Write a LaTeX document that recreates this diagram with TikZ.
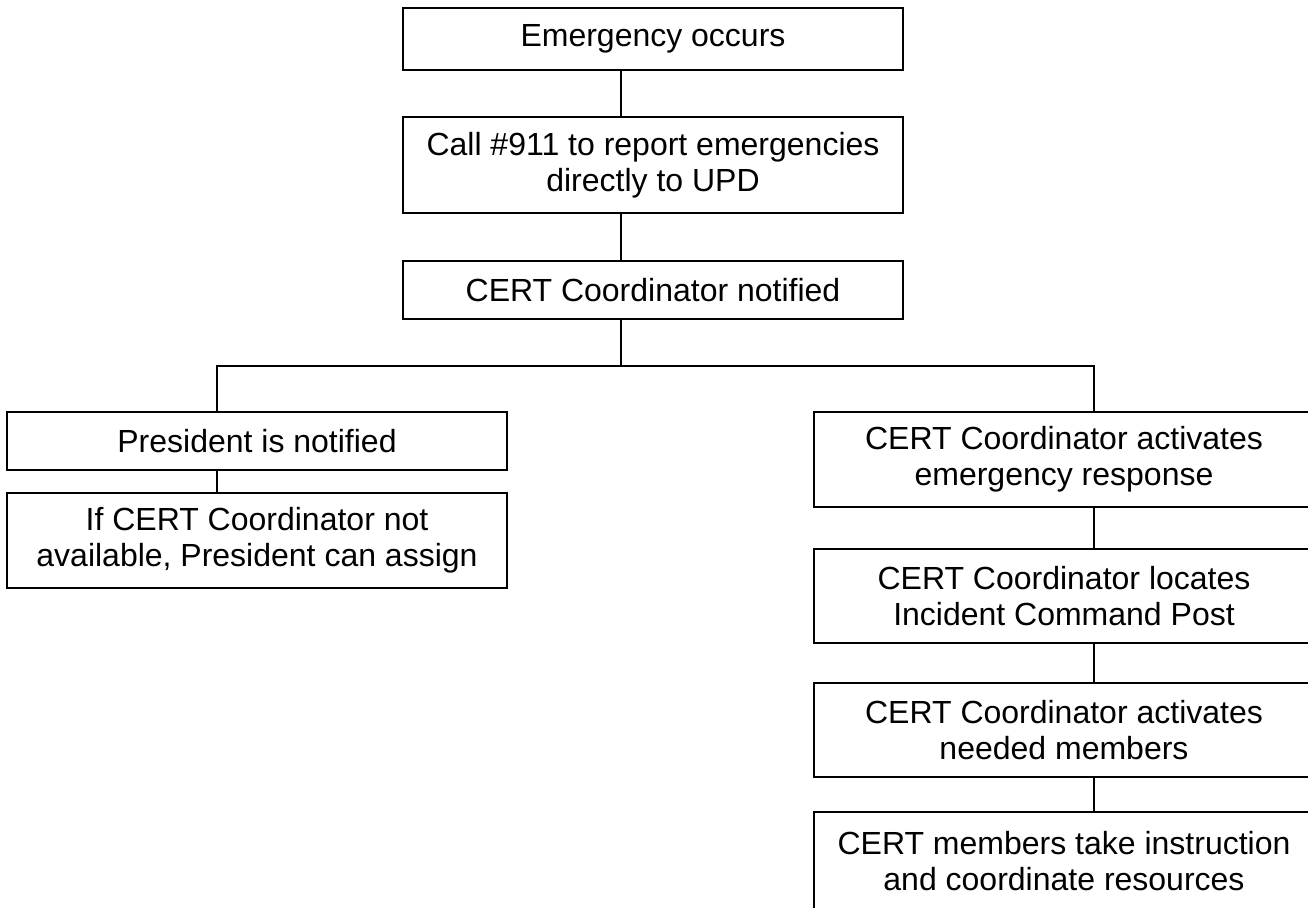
\documentclass[tikz,border=0pt]{standalone}
\usepackage{fontspec}
\setmainfont{Liberation Sans}
\usetikzlibrary{calc}

\tikzset{
  flowbox/.style={draw, line width=1.8pt, minimum width=500pt, align=center,
    inner sep=0pt, font=\fontsize{32}{36}\selectfont},
  link/.style={line width=1.8pt}
}

\begin{document}
\begin{tikzpicture}[x=1pt, y=-1pt]
		%%%%% START %%%%%
		\useasboundingbox (0, 0) rectangle (1308, 907);
		\clip (0, 0) rectangle (1308, 907);
		\fill[white] (0, 0) rectangle (1308, 907);
		
		\node[flowbox, minimum height=62pt] (emerg) at (653, 39) {Emergency occurs};
		\node[flowbox, minimum height=96pt] (call) at (653, 165) {Call \#911 to report emergencies\\directly to UPD};
		\node[flowbox, minimum height=58pt] (notif) at (653, 290) {CERT Coordinator notified};
		
		\node[flowbox, minimum height=58pt] (pres) at (257, 441) {President is notified};
		\node[flowbox, minimum height=95pt] (ifcert) at (257, 540.5) {If CERT Coordinator not\\available, President can assign};
		
		\node[flowbox, minimum height=95pt] (act) at (1064, 459.5) {CERT Coordinator activates\\emergency response};
		\node[flowbox, minimum height=94pt] (locate) at (1064, 596) {CERT Coordinator locates\\Incident Command Post};
		\node[flowbox, minimum height=94pt] (needed) at (1064, 730) {CERT Coordinator activates\\needed members};
		\node[flowbox, minimum height=98pt] (members) at (1064, 861) {CERT members take instruction\\and coordinate resources};
		
		\coordinate (spine) at (621, 0);
		\coordinate (lbranch) at (217, 366);
		\coordinate (rbranch) at (1094, 366);
		
		\draw[link] (emerg.south -| spine) -- (call.north -| spine);
		\draw[link] (call.south -| spine) -- (notif.north -| spine);
		\draw[link] (notif.south -| spine) -- (spine |- lbranch);
		\draw[link] (pres.north -| lbranch) -- (lbranch) -- (rbranch) -- (act.north -| rbranch);
		\draw[link] (pres.south -| lbranch) -- (ifcert.north -| lbranch);
		
		\draw[link] (act.south -| rbranch) -- (locate.north -| rbranch);
		\draw[link] (locate.south -| rbranch) -- (needed.north -| rbranch);
		\draw[link] (needed.south -| rbranch) -- (members.north -| rbranch);
		
		%%%%% END %%%%%
	\end{tikzpicture}
\end{document}
